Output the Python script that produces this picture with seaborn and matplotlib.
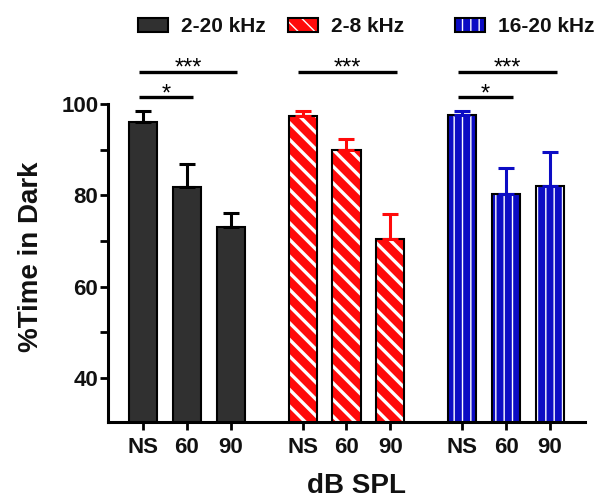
import matplotlib
matplotlib.use("Agg")
import matplotlib.pyplot as plt
from matplotlib.ticker import MultipleLocator
import numpy as np
import pandas as pd
import seaborn as sns

# ---- data ----
groups = ["2-20 kHz", "2-8 kHz", "16-20 kHz"]
levels = ["NS", "60", "90"]
means_broad = [96.1, 81.8, 73.1]
sem_broad = [2.4, 5.1, 3.1]
means_low = [97.4, 90.0, 70.5]
sem_low = [1.1, 2.4, 5.4]
means_high = [97.5, 80.4, 82.0]
sem_high = [0.9, 5.5, 7.6]
y_ticks = [40, 60, 80, 100]
# significance brackets: (group index, from level, to level, label)
brackets = [(0, 0, 2, "***"), (0, 0, 1, "*"),
            (1, 0, 2, "***"),
            (2, 0, 2, "***"), (2, 0, 1, "*")]

fills = ["#303030", "#ff0a0a", "#0c0cc4"]
err_colors = ["#000000", "#ff0a0a", "#0c0cc4"]
hatches = [None, "\\\\", "||"]
hatch_lw = [1.0, 2.4, 1.0]

group_step = 3.64
all_means = [means_broad, means_low, means_high]
all_sems = [sem_broad, sem_low, sem_high]

rows = []
for g, name in enumerate(groups):
    for i, lev in enumerate(levels):
        rows.append({"x": g * group_step + i, "group": name, "level": lev,
                     "value": all_means[g][i], "sem": all_sems[g][i]})
df = pd.DataFrame(rows)

sns.set_theme(style="ticks")
plt.rcParams["font.family"] = ["Liberation Sans", "DejaVu Sans"]
plt.rcParams["hatch.linewidth"] = 1.0

fig = plt.figure(figsize=(6.04, 5.04), dpi=100)
ax = fig.add_axes([108 / 604, 1 - 422 / 504, 477 / 604, 318 / 504])

sns.barplot(data=df, x="x", y="value", hue="group", hue_order=groups,
            palette=fills, native_scale=True, dodge=False, width=0.64,
            errorbar=None, edgecolor="black", linewidth=1.5, saturation=1,
            legend=False, ax=ax)

for g, cont in enumerate(ax.containers):
    for p in cont.patches:
        if hatches[g]:
            p.set_hatch(hatches[g])
            p._hatch_color = (1.0, 1.0, 1.0, 1.0)
            if hasattr(p, "set_hatch_linewidth"):
                p.set_hatch_linewidth(hatch_lw[g])
            elif hasattr(p, "_hatch_linewidth"):
                p._hatch_linewidth = hatch_lw[g]

for g in range(3):
    sub = df[df["group"] == groups[g]]
    ax.errorbar(sub["x"], sub["value"],
                yerr=[np.zeros(len(sub)), sub["sem"]],
                fmt="none", ecolor=err_colors[g], elinewidth=2.2,
                capsize=6, capthick=2.2, zorder=1)

# brackets
for g, i, j, lab in brackets:
    x0 = g * group_step + i - 0.1
    x1 = g * group_step + j + 0.15
    long = (j - i) == 2
    yl = 107.1 if long else 101.6
    ax.plot([x0, x1], [yl, yl], color="black", lw=2.4, clip_on=False,
            solid_capstyle="butt")
    ax.text((x0 + x1) / 2, yl - 0.75 if long else yl - 0.9, lab,
            ha="center", va="baseline", fontsize=17, color="black",
            clip_on=False)

ax.set_xlim(-0.8, 2 * group_step + 2 + 0.8)
ax.set_ylim(30.4, 100)
ax.set_yticks(y_ticks)
ax.yaxis.set_minor_locator(MultipleLocator(10))
ax.set_xticks(df["x"].tolist())
ax.set_xticklabels(df["level"].tolist())

for s in ["top", "right"]:
    ax.spines[s].set_visible(False)
for s in ["left", "bottom"]:
    ax.spines[s].set_linewidth(2.2)
    ax.spines[s].set_color("black")

ax.tick_params(axis="both", which="major", length=6, width=2.0,
               color="black", labelcolor="#111111")
ax.tick_params(axis="y", which="minor", length=6, width=2.0, color="black")
ax.tick_params(axis="y", labelsize=16, pad=1)
ax.tick_params(axis="x", labelsize=16, pad=5)
for lab in ax.get_xticklabels() + ax.get_yticklabels():
    lab.set_fontweight("bold")

ax.set_ylabel("%Time in Dark", fontsize=20, fontweight="bold", color="#111111")
ax.set_xlabel("dB SPL", fontsize=20, fontweight="bold", color="#111111")
ax.yaxis.set_label_coords(-0.135, 0.52)
ax.xaxis.set_label_coords(0.52, -0.16)

legend_left = [138, 288, 455]
for g in range(3):
    leg = fig.legend([ax.containers[g].patches[0]], [groups[g]],
                     loc="center left",
                     bbox_to_anchor=(legend_left[g] / 604, 1 - 27 / 504),
                     frameon=False, prop={"weight": "bold", "size": 15},
                     handlelength=1.45, handleheight=0.65, handletextpad=0.6,
                     borderpad=0, borderaxespad=0)
    for t in leg.get_texts():
        t.set_color("#111111")

fig.savefig("out.png", dpi=100)
